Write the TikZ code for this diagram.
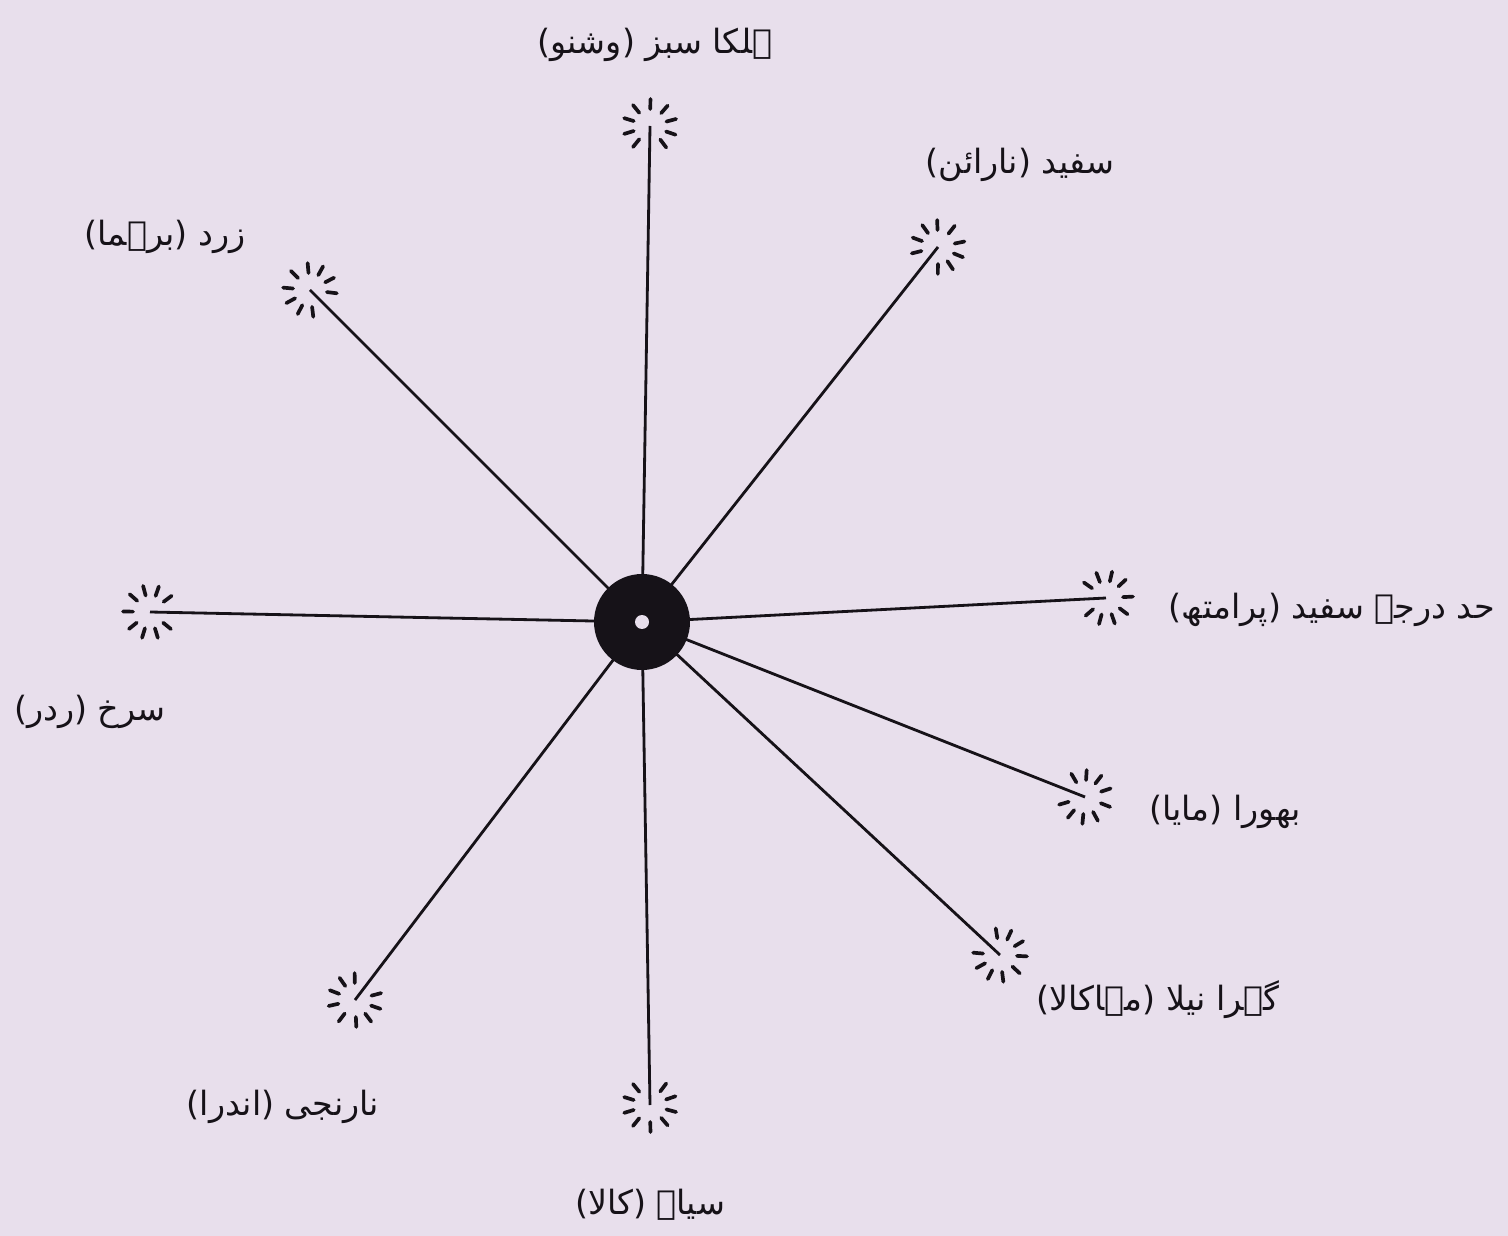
\documentclass[tikz,border=0pt]{standalone}
\usepackage{fontspec}
\usetikzlibrary{calc}
\newfontfamily\urdu[Script=Arabic]{DejaVu Sans}
\TeXXeTstate=1
\definecolor{paper}{RGB}{232,223,236}
\definecolor{ink}{RGB}{22,18,24}
\newcommand\burstat[1]{%
  \draw[tickmark] let \p1=($(c)-(#1)$), \n1={atan2(\y1,\x1)} in
    \foreach \o in {38,72,106,140,180,220,254,288,322}{
      ($(#1)+(\n1+\o:0.34cm)$) -- ($(#1)+(\n1+\o:0.54cm)$)
    };%
}
\begin{document}
\begin{tikzpicture}[x=0.02cm,y=-0.02cm,
  lbl/.style={font=\urdu\fontsize{19}{23}\selectfont, text=ink, inner sep=0pt},
  ray/.style={draw=ink, line width=1.6pt},
  tickmark/.style={draw=ink, line width=2.1pt, line cap=round},
  hub/.style={circle, fill=ink, inner sep=0pt, minimum size=1.92cm},
  hole/.style={circle, fill=paper, inner sep=0pt, minimum size=0.28cm}]
\fill[paper] (0,0) rectangle (1508,1236);
\useasboundingbox (0,0) rectangle (1508,1236);
\coordinate (c) at (642,622);
\coordinate (e1) at (650,126);
\coordinate (e2) at (938,247);
\coordinate (e3) at (310,290);
\coordinate (e4) at (1106,598);
\coordinate (e5) at (150,612);
\coordinate (e6) at (1085,797);
\coordinate (e7) at (1000,955);
\coordinate (e8) at (650,1105);
\coordinate (e9) at (355,1000);
\foreach \e in {e1,e2,e3,e4,e5,e6,e7,e8,e9}{
  \draw[ray] (c) -- (\e);
  \burstat{\e}
}
\node[hub] (hub) at (c) {};
\node[hole] (hole) at (c) {};
\node[lbl] (l1) at (655,45) {\beginR ہلکا سبز (وشنو)\endR};
\node[lbl] (l2) at (1020,165) {\beginR سفید (نارائن)\endR};
\node[lbl] (l3) at (165,237) {\beginR زرد (برہما)\endR};
\node[lbl] (l4) at (1332,610) {\beginR حد درجہ سفید (پرامتھ)\endR};
\node[lbl] (l5) at (90,712) {\beginR سرخ (ردر)\endR};
\node[lbl] (l6) at (1225,812) {\beginR بھورا (مایا)\endR};
\node[lbl] (l7) at (1158,1000) {\beginR گہرا نیلا (مہاکالا)\endR};
\node[lbl] (l8) at (283,1107) {\beginR نارنجی (اندرا)\endR};
\node[lbl] (l9) at (650,1205) {\beginR سیاہ (کالا)\endR};
\end{tikzpicture}
\end{document}
